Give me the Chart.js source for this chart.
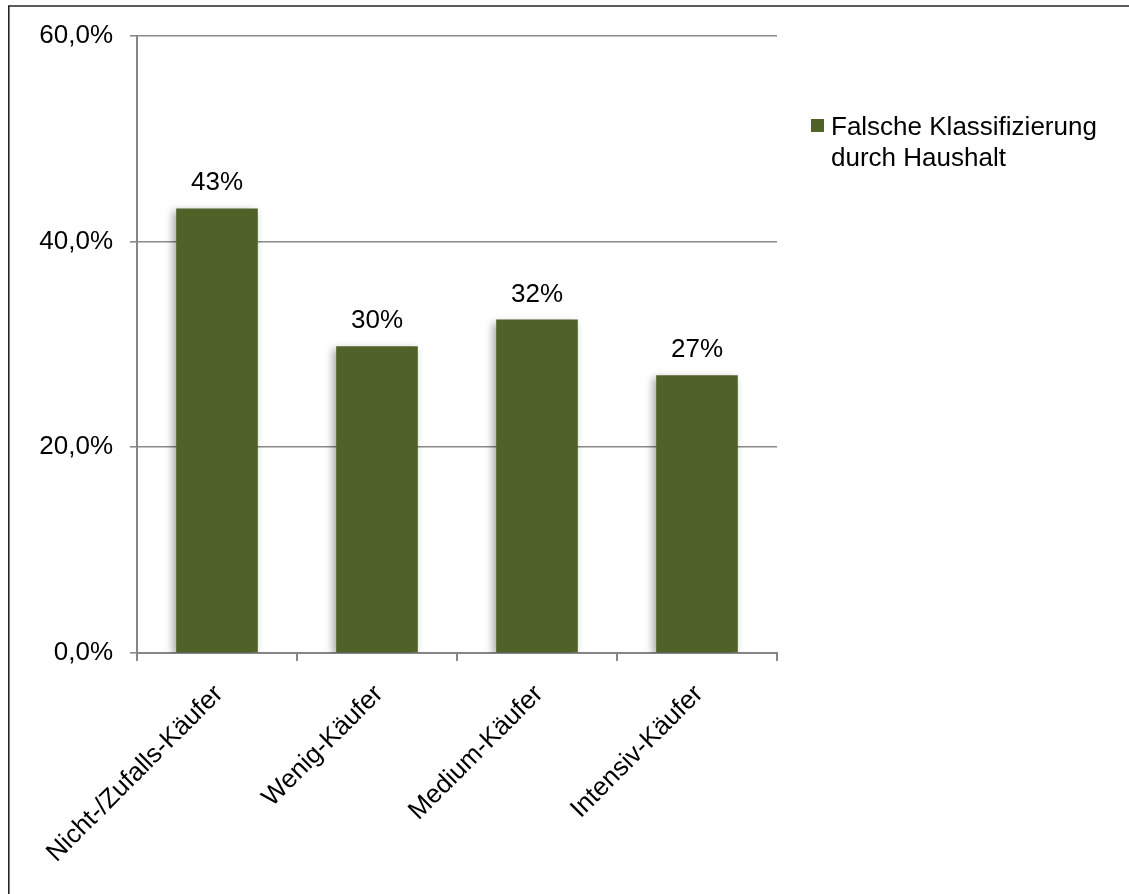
<!DOCTYPE html>
<html>
<head>
<meta charset="utf-8">
<script src="https://cdn.jsdelivr.net/npm/chart.js@4"></script>
<style>
  html, body { margin: 0; padding: 0; background: #fff; }
  canvas { display: block; }
</style>
</head>
<body>
<canvas id="c" width="1129" height="894"></canvas>
<script>
const categories = ['Nicht-/Zufalls-Käufer', 'Wenig-Käufer', 'Medium-Käufer', 'Intensiv-Käufer'];
const values = [43.2, 29.8, 32.4, 27.0];
const valueLabels = ['43%', '30%', '32%', '27%'];
const seriesName = ['Falsche Klassifizierung', 'durch Haushalt'];
const yTicks = [0, 20, 40, 60];

const FONT = '"Liberation Sans", Arial, sans-serif';
const FONT_SIZE = 26;
const BAR_COLOR = '#4F6228';

const framePlugin = {
  id: 'frame',
  beforeDraw(chart) {
    const ctx = chart.ctx;
    ctx.save();
    ctx.fillStyle = '#fff';
    ctx.fillRect(0, 0, chart.width, chart.height);
    ctx.strokeStyle = '#262626';
    ctx.lineWidth = 1.6;
    ctx.beginPath();
    ctx.moveTo(8.8, chart.height + 2);
    ctx.lineTo(8.8, 6);
    ctx.lineTo(chart.width + 2, 6);
    ctx.stroke();
    ctx.restore();
  }
};

const shadowPlugin = {
  id: 'barShadow',
  beforeDatasetsDraw(chart) {
    const ctx = chart.ctx;
    ctx.save();
    ctx.shadowColor = 'rgba(0,0,0,0.35)';
    ctx.shadowBlur = 8;
    ctx.shadowOffsetX = -3;
    ctx.shadowOffsetY = 3;
  },
  afterDatasetsDraw(chart) {
    chart.ctx.restore();
  }
};

const labelsPlugin = {
  id: 'valueLabels',
  afterDatasetsDraw(chart) {
    const ctx = chart.ctx;
    const meta = chart.getDatasetMeta(0);
    ctx.save();
    ctx.fillStyle = '#000';
    ctx.font = FONT_SIZE + 'px ' + FONT;
    ctx.textAlign = 'center';
    ctx.textBaseline = 'alphabetic';
    meta.data.forEach((bar, i) => {
      ctx.fillText(valueLabels[i], bar.x, bar.y - 18);
    });
    ctx.restore();
  }
};

const legendPlugin = {
  id: 'sideLegend',
  afterDraw(chart) {
    const ctx = chart.ctx;
    const x0 = chart.chartArea.right + 34;
    const y0 = 119;
    ctx.save();
    ctx.fillStyle = BAR_COLOR;
    ctx.fillRect(x0, y0, 13, 13);
    ctx.fillStyle = '#000';
    ctx.font = FONT_SIZE + 'px ' + FONT;
    ctx.textAlign = 'left';
    ctx.textBaseline = 'alphabetic';
    seriesName.forEach((line, i) => {
      ctx.fillText(line, x0 + 20, y0 + 16 + i * 31);
    });
    ctx.restore();
  }
};

new Chart(document.getElementById('c'), {
  type: 'bar',
  data: {
    labels: categories,
    datasets: [{
      label: seriesName.join(' '),
      data: values,
      backgroundColor: BAR_COLOR,
      borderWidth: 0,
      categoryPercentage: 1,
      barPercentage: 0.51
    }]
  },
  options: {
    responsive: false,
    animation: false,
    events: [],
    layout: {
      autoPadding: false,
      padding: { top: 35.5, right: 352, left: 0, bottom: 0 }
    },
    plugins: {
      legend: { display: false },
      tooltip: { enabled: false }
    },
    scales: {
      x: {
        offset: true,
        grid: {
          offset: true,
          drawOnChartArea: false,
          drawTicks: true,
          tickLength: 8,
          color: '#868686',
          lineWidth: 2
        },
        border: { display: true, color: '#868686', width: 2 },
        ticks: {
          color: '#000',
          font: { family: FONT, size: FONT_SIZE },
          minRotation: 45,
          maxRotation: 45,
          padding: 18,
          labelOffset: 2,
          autoSkip: false
        },
        afterFit(scale) { scale.height = 894 - 653; }
      },
      y: {
        min: 0,
        max: 60,
        afterBuildTicks(scale) { scale.ticks = yTicks.map(v => ({ value: v })); },
        grid: {
          color: '#8a8a8a',
          lineWidth: 1.6,
          drawTicks: true,
          tickLength: 7
        },
        border: { display: true, color: '#868686', width: 2 },
        ticks: {
          color: '#000',
          font: { family: FONT, size: FONT_SIZE },
          padding: 17,
          callback: v => v.toFixed(1).replace('.', ',') + '%'
        },
        afterFit(scale) { scale.width = 137; }
      }
    }
  },
  plugins: [framePlugin, shadowPlugin, labelsPlugin, legendPlugin]
});
</script>
</body>
</html>
